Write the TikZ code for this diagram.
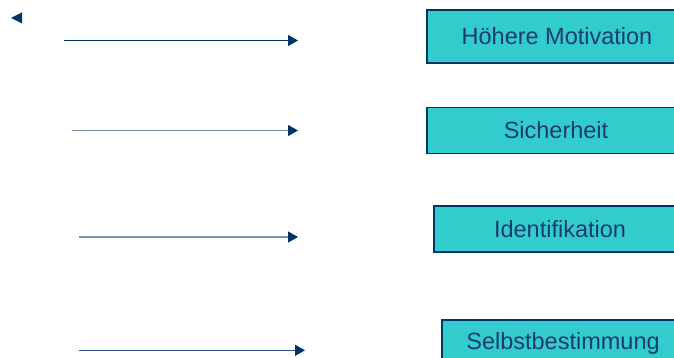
\documentclass[tikz,border=0pt]{standalone}
\usepackage{fontspec}
\setmainfont{Liberation Sans}
\usepackage{tikz}
\usetikzlibrary{arrows.meta}

\definecolor{navy}{HTML}{003366}
\definecolor{paleline}{HTML}{7B93AE}
\definecolor{midline}{HTML}{2E5585}
\definecolor{turq}{HTML}{33CCCC}
\definecolor{boxtext}{HTML}{1A3C6C}

\tikzset{
  goal/.style={draw=navy, line width=1.2pt, fill=turq, text=boxtext,
    font=\fontsize{23.5}{28}\selectfont, inner sep=0pt},
  link/.style={line width=1.2pt, -{Triangle[length=10pt,width=11pt,color=navy]}}
}

\begin{document}
\begin{tikzpicture}[x=1pt,y=1pt]
\useasboundingbox (0,0) rectangle (674,-358);
\clip (0,0) rectangle (674,-358);
% boxes
\node [goal, minimum width=260, minimum height=53] (motiv) at (557,-36.5) {Höhere Motivation};
\node [goal, minimum width=258, minimum height=46] (sicher) at (556,-130.5) {Sicherheit};
\node [goal, minimum width=252, minimum height=46] (ident) at (560,-229) {Identifikation};
\node [goal, minimum width=242, minimum height=46] (selbst) at (563,-343) {Selbstbestimmung};
% arrows
\coordinate (s1) at (64,-40.5);
\coordinate (e1) at (298,-40.5);
\coordinate (s2) at (72,-130.5);
\coordinate (e2) at (298,-130.5);
\coordinate (s3) at (79,-237);
\coordinate (e3) at (298,-237);
\coordinate (s4) at (79,-350.3);
\coordinate (e4) at (305,-350.3);
\draw [link, navy] (s1) -- (e1);
\draw [link, paleline] (s2) -- (e2);
\draw [link, paleline] (s3) -- (e3);
\draw [link, midline] (s4) -- (e4);
% lone tip
\fill [navy] (11,-18) -- (22,-12.5) -- (22,-23.5) -- cycle;
\end{tikzpicture}
\end{document}
